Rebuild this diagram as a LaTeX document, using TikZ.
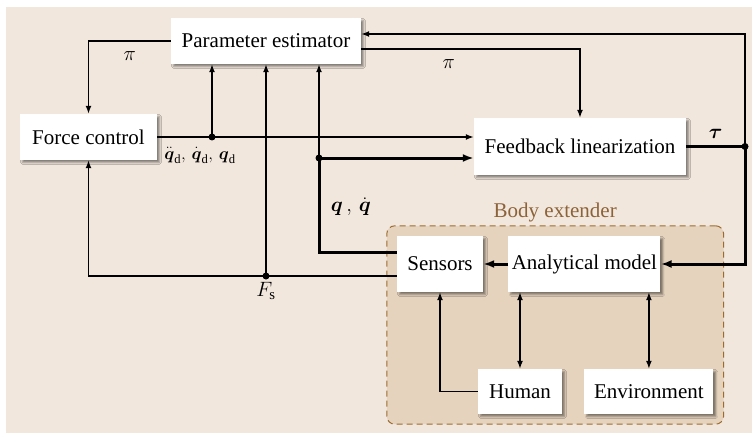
\documentclass[tikz,border=0pt]{standalone}
\usepackage{fontspec}
\setmainfont{Liberation Serif}
\usepackage{amsmath,amssymb}
\usetikzlibrary{positioning,arrows.meta,calc,fit,backgrounds,shadows.blur}
\definecolor{PageTint}{HTML}{F2E7DD}
\definecolor{BodyTint}{HTML}{E5D3BE}
\definecolor{BodyEdge}{HTML}{9C6B30}
\definecolor{BodyText}{HTML}{8C6239}
\newcommand{\Lab}{\fontsize{21}{25}\selectfont}
\newcommand{\Sub}{\fontsize{18}{22}\selectfont}
\tikzset{
  blk/.style={fill=white, align=center, inner sep=0pt, font=\Lab,
              blur shadow={shadow xshift=2.5pt, shadow yshift=-2.5pt,
                           shadow blur steps=4, shadow opacity=45}},
  flow/.style={-{Latex[length=8pt,width=6pt]}, line width=1.5pt},
  thickflow/.style={-{Latex[length=11pt,width=8pt]}, line width=3pt},
  twoway/.style={{Latex[length=8pt,width=6pt]}-{Latex[length=8pt,width=6pt]}, line width=1.5pt},
  bus/.style={line width=3pt},
}

\begin{document}
\begin{tikzpicture}[x=1pt, y=-1pt, font=\Lab]
  \useasboundingbox (0,0) rectangle (752,433);

  \node[blk, minimum width=190pt, minimum height=46pt] (pe) at (266,41) {Parameter estimator};
  \node[blk, minimum width=137pt, minimum height=46pt] (fc) at (88.5,137) {Force control};
  \node[blk, minimum width=212pt, minimum height=57pt] (fl) at (580,146.5) {Feedback linearization};
  \node[blk, minimum width=86pt, minimum height=56pt] (sen) at (440,264) {Sensors};
  \node[blk, minimum width=152pt, minimum height=56pt, right=25pt of sen] (am) {Analytical model};
  \node[blk, minimum width=84pt, minimum height=45pt] (hum) at (520,391.5) {Human};
  \node[blk, minimum width=129pt, minimum height=45pt, right=22pt of hum] (env) {Environment};

  % background and body extender frame
  \begin{scope}[on background layer]
    \fill[PageTint] (6,7) rectangle (752,433);
    \node[fit=(sen)(am)(hum)(env), inner sep=10pt, rounded corners=8pt, draw=BodyEdge,
          fill=BodyTint, line width=1pt, dash pattern=on 6pt off 4pt,
          label={[text=BodyText, font=\Lab]above:Body extender}] (body) {};
  \end{scope}

  \coordinate (dq) at (212,137);
  \coordinate (qj) at (319,158);
  \coordinate (jt) at (745,146.5);
  \coordinate (sq) at ([yshift=12pt]sen.west);
  \coordinate (sl) at ([yshift=-12pt]sen.west);
  \coordinate (fs) at (sl -| pe.south);

  % estimator outputs
  \draw[flow] (pe.west) -| node[pos=0.25, below=6pt] {$\pi$} (fc.north);
  \draw[flow] ([yshift=-8pt]pe.east) -| node[pos=0.2, below=6pt] {$\pi$} (fl.north);

  % desired trajectory
  \draw[flow] (fc.east) -- (fc.east -| fl.west);
  \draw[flow] (dq) -- (dq |- pe.south);
  \node[font=\Sub, below=7pt of dq, xshift=-12pt] (qdl)
    {$\ddot{\boldsymbol q}_{\mathrm d},\,\dot{\boldsymbol q}_{\mathrm d},\,\boldsymbol q_{\mathrm d}$};

  % joint states
  \draw[bus] (sq) -| node[pos=0.74, right=7pt] {$\boldsymbol q\,,\,\dot{\boldsymbol q}$} (qj);
  \draw[thickflow] (qj) -- (qj -| fl.west);
  \draw[flow] (qj) -- (qj |- pe.south);

  % force sensing
  \draw[flow] (sl) -| (fc.south);
  \draw[flow] (fs) -- (pe.south);
  \node[below=3pt of fs] (fsl) {$F_{\mathrm s}$};

  % torque
  \draw[bus] (fl.east) -- node[above=3pt] {$\boldsymbol\tau$} (jt);
  \draw[thickflow] (jt) |- (am.east);
  \draw[flow] (jt) |- ([yshift=7pt]pe.east);

  % body extender
  \draw[thickflow] (am.west) -- (sen.east);
  \draw[twoway] (hum.north) -- (hum.north |- am.south);
  \draw[twoway] (env.north) -- (env.north |- am.south);
  \draw[flow] (hum.west) -| (sen.south);

  \foreach \j in {dq,qj,jt,fs}
    \fill (\j) circle (3.5pt);
\end{tikzpicture}
\end{document}
